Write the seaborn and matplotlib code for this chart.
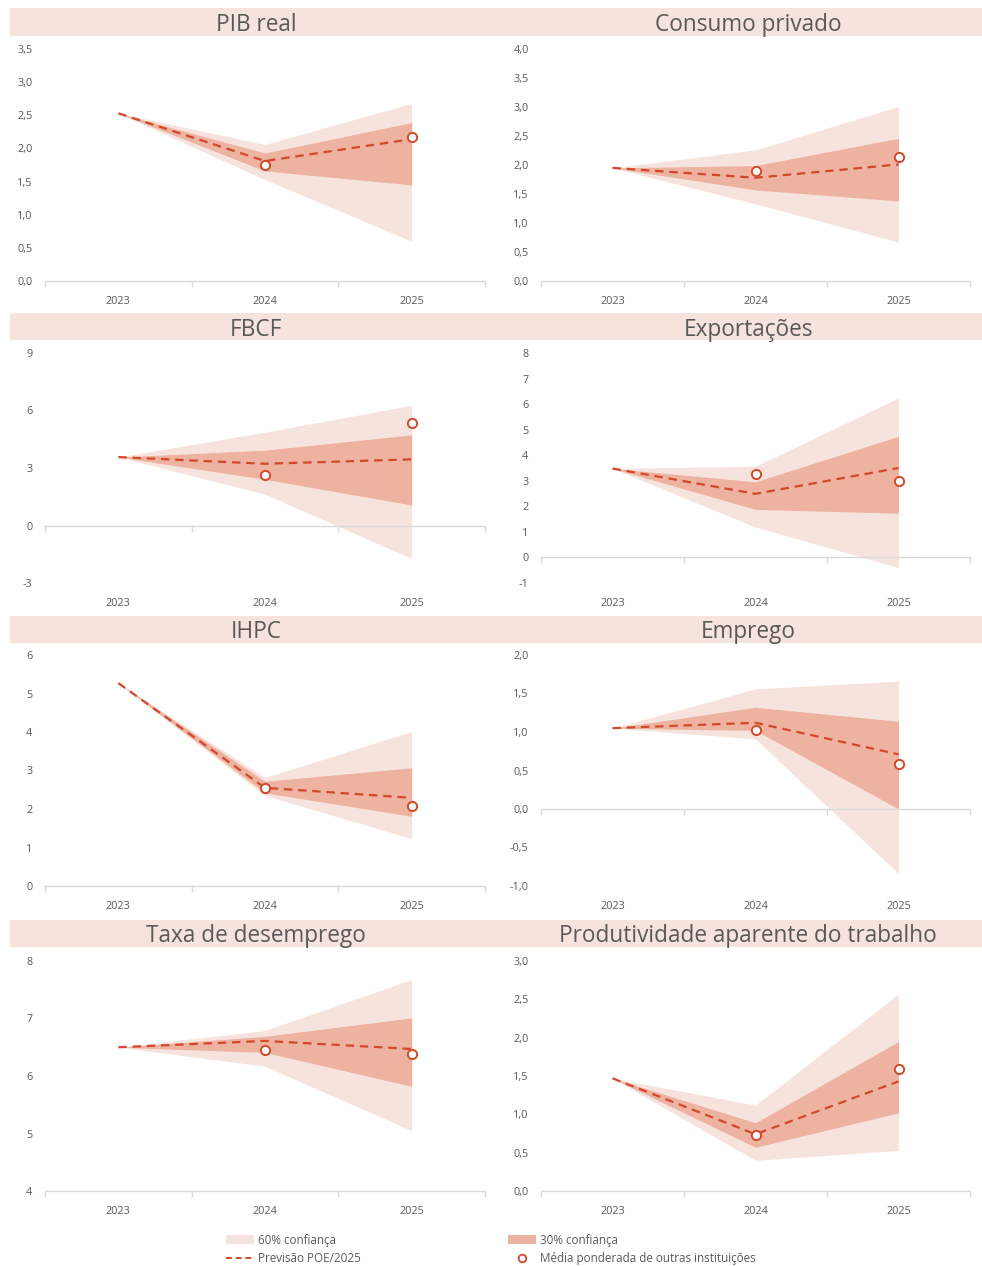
import numpy as np
import pandas as pd
import matplotlib
matplotlib.use("Agg")
import matplotlib.pyplot as plt
import seaborn as sns
from matplotlib.patches import Rectangle, Patch
from matplotlib.lines import Line2D

sns.set_theme(style="white")
plt.rcParams['font.family'] = ['Open Sans', 'DejaVu Sans']

# ---------------- data ----------------
years = ["2023", "2024", "2025"]

titles = ["PIB real", "Consumo privado", "FBCF", "Exportações",
          "IHPC", "Emprego", "Taxa de desemprego", "Produtividade aparente do trabalho"]

pib_poe = [2.53, 1.81, 2.14]
pib_60_lo = [2.53, 1.53, 0.60]
pib_60_hi = [2.53, 2.06, 2.68]
pib_30_lo = [2.53, 1.66, 1.45]
pib_30_hi = [2.53, 1.93, 2.39]
pib_other = [np.nan, 1.75, 2.17]

cons_poe = [1.95, 1.78, 2.01]
cons_60_lo = [1.95, 1.33, 0.67]
cons_60_hi = [1.95, 2.26, 3.01]
cons_30_lo = [1.95, 1.57, 1.38]
cons_30_hi = [1.95, 1.99, 2.46]
cons_other = [np.nan, 1.89, 2.13]

fbcf_poe = [3.57, 3.22, 3.45]
fbcf_60_lo = [3.57, 1.63, -1.72]
fbcf_60_hi = [3.57, 4.87, 6.27]
fbcf_30_lo = [3.57, 2.41, 1.07]
fbcf_30_hi = [3.57, 3.93, 4.73]
fbcf_other = [np.nan, 2.62, 5.34]

exp_poe = [3.48, 2.49, 3.50]
exp_60_lo = [3.48, 1.19, -0.40]
exp_60_hi = [3.48, 3.57, 6.24]
exp_30_lo = [3.48, 1.88, 1.73]
exp_30_hi = [3.48, 2.96, 4.74]
exp_other = [np.nan, 3.28, 3.00]

ihpc_poe = [5.27, 2.55, 2.29]
ihpc_60_lo = [5.27, 2.35, 1.23]
ihpc_60_hi = [5.27, 2.82, 4.01]
ihpc_30_lo = [5.27, 2.42, 1.81]
ihpc_30_hi = [5.27, 2.72, 3.07]
ihpc_other = [np.nan, 2.55, 2.07]

emp_poe = [1.05, 1.12, 0.71]
emp_60_lo = [1.05, 0.91, -0.84]
emp_60_hi = [1.05, 1.56, 1.66]
emp_30_lo = [1.05, 1.02, 0.00]
emp_30_hi = [1.05, 1.32, 1.14]
emp_other = [np.nan, 1.03, 0.59]

tx_poe = [6.50, 6.61, 6.47]
tx_60_lo = [6.50, 6.17, 5.05]
tx_60_hi = [6.50, 6.79, 7.68]
tx_30_lo = [6.50, 6.41, 5.82]
tx_30_hi = [6.50, 6.69, 7.01]
tx_other = [np.nan, 6.46, 6.38]

prod_poe = [1.47, 0.74, 1.43]
prod_60_lo = [1.47, 0.40, 0.53]
prod_60_hi = [1.47, 1.12, 2.57]
prod_30_lo = [1.47, 0.57, 1.02]
prod_30_hi = [1.47, 0.89, 1.95]
prod_other = [np.nan, 0.73, 1.59]

# y-axis settings: (min, max, step, decimals)
yaxes = [(0, 3.5, 0.5, 1), (0, 4.0, 0.5, 1), (-3, 9, 3, 0), (-1, 8, 1, 0),
         (0, 6, 1, 0), (-1.0, 2.0, 0.5, 1), (4, 8, 1, 0), (0, 3.0, 0.5, 1)]

panels = [
    (pib_poe, pib_60_lo, pib_60_hi, pib_30_lo, pib_30_hi, pib_other),
    (cons_poe, cons_60_lo, cons_60_hi, cons_30_lo, cons_30_hi, cons_other),
    (fbcf_poe, fbcf_60_lo, fbcf_60_hi, fbcf_30_lo, fbcf_30_hi, fbcf_other),
    (exp_poe, exp_60_lo, exp_60_hi, exp_30_lo, exp_30_hi, exp_other),
    (ihpc_poe, ihpc_60_lo, ihpc_60_hi, ihpc_30_lo, ihpc_30_hi, ihpc_other),
    (emp_poe, emp_60_lo, emp_60_hi, emp_30_lo, emp_30_hi, emp_other),
    (tx_poe, tx_60_lo, tx_60_hi, tx_30_lo, tx_30_hi, tx_other),
    (prod_poe, prod_60_lo, prod_60_hi, prod_30_lo, prod_30_hi, prod_other),
]

# ---------------- style ----------------
C60 = "#F7E3DE"
C30 = "#EDB2A0"
CLINE = "#D2492A"
CTXT = "#595959"
CAX = "#D9D9D9"
BAND = "#F7E3DE"

W, H = 982, 1266
fig = plt.figure(figsize=(W / 100, H / 100), dpi=100)
fig.patch.set_facecolor("white")

row_axes = [(49, 281), (353, 583), (655, 886), (961, 1191)]
row_bands = [(8, 36), (313, 340), (616, 643), (920, 947)]
col_x = [(45, 485), (541, 970)]
col_band = [(10, 491), (491, 982)]
col_title_x = [256, 748]

x = np.arange(len(years))

for i, (title, data, ya) in enumerate(zip(titles, panels, yaxes)):
    r, c = divmod(i, 2)
    top, bot = row_axes[r]
    x0, x1 = col_x[c]
    ax = fig.add_axes([x0 / W, 1 - bot / H, (x1 - x0) / W, (bot - top) / H])
    poe, lo60, hi60, lo30, hi30, other = data

    ax.fill_between(x, lo60, hi60, color=C60, lw=0, zorder=1)
    ax.fill_between(x, lo30, hi30, color=C30, lw=0, zorder=2)
    df = pd.DataFrame({"x": x, "poe": poe, "other": other})
    sns.lineplot(data=df, x="x", y="poe", ax=ax, color=CLINE, lw=1.6,
                 linestyle=(0, (3.8, 2.6)), zorder=3)
    sns.scatterplot(data=df, x="x", y="other", ax=ax, s=44, color="white",
                    edgecolor=CLINE, linewidth=1.4, zorder=4)

    ymin, ymax, step, dec = ya
    ax.set_ylim(ymin, ymax)
    ax.set_xlim(-0.5, len(years) - 0.5)
    yt = np.arange(ymin, ymax + step / 2, step)
    ax.set_yticks(yt)
    ax.set_yticklabels([(f"{v:.{dec}f}").replace(".", ",") for v in yt])
    ax.tick_params(axis="y", length=0, pad=9, labelsize=7.8, labelcolor=CTXT)

    for s in ["top", "right", "left"]:
        ax.spines[s].set_visible(False)
    ax.spines["bottom"].set_position(("data", 0 if ymin < 0 else ymin))
    ax.spines["bottom"].set_color(CAX)
    ax.spines["bottom"].set_linewidth(1.0)
    ax.set_xticks(np.arange(-0.5, len(years), 1.0))
    ax.set_xticklabels([])
    ax.tick_params(axis="x", direction="out", length=4, width=1, color=CAX, bottom=True)
    ax.set_xlabel("")
    ax.set_ylabel("")
    ax.grid(False)

    sec = ax.secondary_xaxis("bottom")
    sec.set_xticks(x)
    sec.set_xticklabels(years)
    sec.tick_params(length=0, pad=10.5, labelsize=7.8, labelcolor=CTXT)
    sec.spines["bottom"].set_visible(False)

    # title band
    bt, bb = row_bands[r]
    bx0, bx1 = col_band[c]
    fig.patches.append(Rectangle((bx0 / W, 1 - bb / H), (bx1 - bx0) / W, (bb - bt) / H,
                                 transform=fig.transFigure, facecolor=BAND,
                                 edgecolor="none", zorder=0))
    fig.text(col_title_x[c] / W, 1 - ((bt + bb) / 2 + 3) / H, title, ha="center",
             va="center", fontsize=16.3, color=CTXT)

handles = [Patch(facecolor=C60, edgecolor="none"),
           Line2D([], [], color=CLINE, lw=1.4, linestyle=(0, (3, 2))),
           Patch(facecolor=C30, edgecolor="none"),
           Line2D([], [], color="white", marker="o", markersize=5.5,
                  markeredgecolor=CLINE, markeredgewidth=1.3, linestyle="none")]
labels = ["60% confiança", "Previsão POE/2025", "30% confiança",
          "Média ponderada de outras instituições"]
leg = fig.legend(handles, labels, ncol=2, loc="center left",
                 bbox_to_anchor=(226 / W, 1 - 1249.5 / H), frameon=False,
                 fontsize=8.4, labelcolor=CTXT, handlelength=2.4, handleheight=0.8,
                 handletextpad=0.35, columnspacing=12.6, labelspacing=0.5,
                 borderpad=0, borderaxespad=0)

fig.savefig("out.png", dpi=100, facecolor="white")
